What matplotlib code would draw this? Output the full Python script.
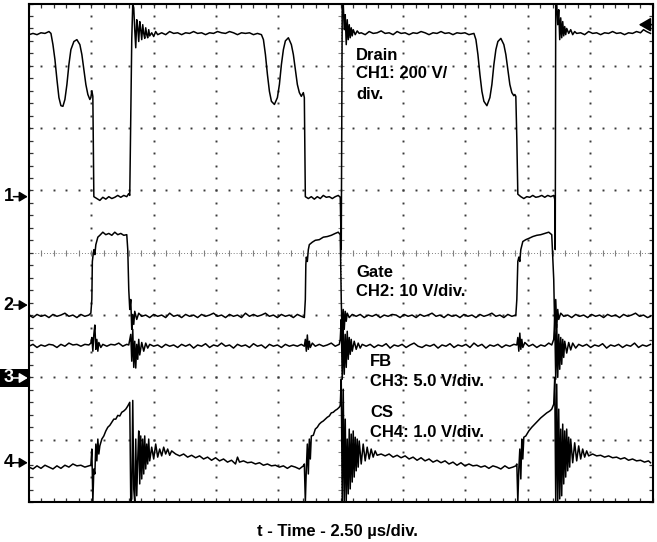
import numpy as np
import matplotlib
matplotlib.use("Agg")
import matplotlib.pyplot as plt
from matplotlib.patches import Rectangle
from matplotlib.transforms import blended_transform_factory

# scope screen: 10 x 8 divisions, 2.50 us/div -> time 0..25 us, levels in divisions
T_DIV = 2.5
N_XDIV = 10
N_YDIV = 8

# CH1 drain (time in us, level in div)
drain = np.array([
    (0.00, 7.50), (0.16, 7.52), (0.32, 7.50), (0.48, 7.53), (0.64, 7.52), (0.80, 7.55), (0.88, 7.52),
    (0.96, 7.34), (1.04, 7.10), (1.12, 6.78), (1.20, 6.49), (1.28, 6.36), (1.36, 6.35), (1.44, 6.46),
    (1.52, 6.70), (1.60, 7.02), (1.68, 7.26), (1.80, 7.39), (1.92, 7.42), (2.04, 7.34), (2.12, 7.18),
    (2.20, 6.94), (2.28, 6.70), (2.36, 6.54), (2.44, 6.46), (2.48, 6.49), (2.52, 6.60), (2.56, 6.51),
    (2.58, 5.66), (2.60, 4.90),
    (2.72, 4.87), (2.84, 4.84), (2.96, 4.89), (3.08, 4.86), (3.20, 4.90), (3.32, 4.87), (3.44, 4.89),
    (3.56, 4.92), (3.68, 4.89), (3.80, 4.92), (3.92, 4.90), (4.00, 4.95), (4.04, 4.92),
    (4.08, 6.14), (4.12, 7.42), (4.16, 8.00), (4.20, 7.93), (4.24, 7.58), (4.28, 7.29), (4.32, 7.74),
    (4.36, 7.61), (4.40, 7.39), (4.44, 7.71), (4.48, 7.58), (4.52, 7.42), (4.56, 7.66), (4.60, 7.52),
    (4.64, 7.44), (4.68, 7.61), (4.72, 7.50), (4.76, 7.45), (4.80, 7.58), (4.84, 7.48), (4.92, 7.53),
    (5.00, 7.47), (5.08, 7.55), (5.16, 7.50),
    (5.32, 7.53), (5.48, 7.50), (5.64, 7.55), (5.80, 7.52), (5.96, 7.53), (6.12, 7.50), (6.28, 7.53),
    (6.44, 7.52), (6.60, 7.55), (6.76, 7.52), (6.92, 7.53), (7.08, 7.50), (7.24, 7.53), (7.40, 7.52),
    (7.56, 7.55), (7.72, 7.53), (7.88, 7.52), (8.04, 7.55), (8.20, 7.53), (8.36, 7.50), (8.52, 7.53),
    (8.68, 7.52), (8.84, 7.53), (9.00, 7.50), (9.16, 7.52), (9.32, 7.50),
    (9.40, 7.42), (9.48, 7.18), (9.56, 6.86), (9.64, 6.59), (9.72, 6.43), (9.84, 6.38), (9.96, 6.49),
    (10.04, 6.70), (10.12, 7.02), (10.20, 7.26), (10.28, 7.40), (10.40, 7.45), (10.52, 7.34),
    (10.60, 7.18), (10.68, 6.94), (10.76, 6.70), (10.84, 6.57), (10.92, 6.51), (10.96, 6.54),
    (11.00, 6.57), (11.04, 6.49), (11.06, 5.66), (11.08, 4.90),
    (11.20, 4.87), (11.32, 4.90), (11.44, 4.86), (11.56, 4.90), (11.68, 4.87), (11.80, 4.92),
    (11.92, 4.89), (12.04, 4.90), (12.16, 4.87), (12.28, 4.90), (12.40, 4.92), (12.48, 4.89),
    (12.52, 4.05), (12.56, 8.00), (12.60, 8.00), (12.64, 7.58), (12.68, 7.82), (12.72, 7.34),
    (12.76, 7.74), (12.80, 7.42), (12.84, 7.66), (12.88, 7.45), (12.92, 7.61), (12.96, 7.48),
    (13.00, 7.58), (13.08, 7.50), (13.16, 7.56), (13.24, 7.52), (13.32, 7.53),
    (13.48, 7.50), (13.64, 7.55), (13.80, 7.52), (13.96, 7.53), (14.12, 7.56), (14.28, 7.52),
    (14.44, 7.53), (14.60, 7.50), (14.76, 7.55), (14.92, 7.52), (15.08, 7.53), (15.24, 7.50),
    (15.40, 7.53), (15.56, 7.52), (15.72, 7.55), (15.88, 7.53), (16.04, 7.50), (16.20, 7.53),
    (16.36, 7.52), (16.52, 7.55), (16.68, 7.52), (16.84, 7.53), (17.00, 7.50), (17.16, 7.53),
    (17.32, 7.52), (17.48, 7.53), (17.64, 7.50), (17.84, 7.52),
    (17.92, 7.42), (18.00, 7.18), (18.08, 6.86), (18.16, 6.59), (18.24, 6.43), (18.36, 6.36),
    (18.48, 6.49), (18.56, 6.70), (18.64, 7.02), (18.72, 7.26), (18.80, 7.39), (18.92, 7.44),
    (19.04, 7.34), (19.12, 7.18), (19.20, 6.94), (19.28, 6.70), (19.36, 6.57), (19.44, 6.52),
    (19.48, 6.54), (19.52, 6.51), (19.56, 5.82), (19.60, 4.94),
    (19.72, 4.90), (19.84, 4.87), (19.96, 4.90), (20.08, 4.89), (20.20, 4.92), (20.32, 4.89),
    (20.44, 4.90), (20.56, 4.92), (20.68, 4.89), (20.80, 4.92), (20.92, 4.90), (21.04, 4.92),
    (21.08, 4.86), (21.10, 4.05), (21.12, 8.00), (21.16, 8.00), (21.20, 7.66), (21.24, 7.90),
    (21.28, 7.42), (21.32, 7.77), (21.36, 7.45), (21.40, 7.71), (21.44, 7.48), (21.48, 7.63),
    (21.52, 7.50), (21.56, 7.60), (21.64, 7.52), (21.72, 7.58), (21.80, 7.50), (21.88, 7.55),
    (21.96, 7.52),
    (22.12, 7.53), (22.28, 7.50), (22.44, 7.55), (22.60, 7.52), (22.76, 7.53), (22.92, 7.50),
    (23.08, 7.53), (23.24, 7.52), (23.40, 7.55), (23.56, 7.52), (23.72, 7.53), (23.88, 7.50),
    (24.04, 7.53), (24.20, 7.52), (24.36, 7.55), (24.52, 7.53), (24.64, 7.58), (24.76, 7.55),
    (24.92, 7.52),
])

# CH2 gate
gate = np.array([
    (0.00, 3.00), (0.16, 2.96), (0.32, 3.01), (0.48, 2.98), (0.64, 3.00), (0.80, 2.96), (0.96, 3.01),
    (1.12, 2.98), (1.28, 3.00), (1.44, 3.03), (1.60, 2.98), (1.76, 3.00), (1.92, 2.96), (2.08, 3.01),
    (2.24, 2.98), (2.40, 3.00), (2.48, 3.03),
    (2.52, 3.25), (2.54, 3.86), (2.56, 3.93), (2.60, 4.05), (2.64, 3.97), (2.68, 4.13), (2.76, 4.25),
    (2.84, 4.28), (2.96, 4.33), (3.08, 4.29), (3.20, 4.31), (3.32, 4.28), (3.44, 4.33), (3.56, 4.29),
    (3.68, 4.31), (3.80, 4.28), (3.92, 4.29),
    (3.96, 4.05), (4.00, 3.41), (4.04, 3.09), (4.08, 3.25), (4.12, 2.77), (4.16, 3.01), (4.20, 2.85),
    (4.24, 3.06), (4.32, 2.93), (4.40, 3.03), (4.52, 2.98),
    (4.68, 3.00), (4.84, 2.96), (5.00, 3.01), (5.16, 2.98), (5.32, 3.00), (5.48, 2.96), (5.64, 3.03),
    (5.80, 2.98), (5.96, 3.00), (6.12, 2.96), (6.28, 3.01), (6.44, 2.98), (6.60, 3.00), (6.76, 2.96),
    (6.92, 3.01), (7.08, 2.98), (7.24, 3.00), (7.40, 3.03), (7.56, 2.98), (7.72, 3.00), (7.88, 2.96),
    (8.04, 3.01), (8.20, 2.98), (8.36, 3.00), (8.52, 2.96), (8.68, 3.03), (8.84, 2.98), (9.00, 3.01),
    (9.16, 2.98), (9.32, 3.00), (9.48, 3.03), (9.64, 2.98), (9.80, 3.00), (9.96, 2.96), (10.12, 3.01),
    (10.28, 2.98), (10.44, 3.00), (10.60, 2.96), (10.76, 3.01), (10.92, 2.98), (11.04, 2.96),
    (11.08, 3.25), (11.10, 3.81), (11.12, 3.93), (11.16, 3.86), (11.20, 4.05), (11.24, 4.13),
    (11.36, 4.17), (11.48, 4.20), (11.64, 4.21), (11.80, 4.25), (11.96, 4.26), (12.12, 4.28),
    (12.28, 4.31), (12.40, 4.33), (12.48, 4.29),
    (12.52, 3.25), (12.56, 2.61), (12.60, 3.09), (12.64, 2.77), (12.68, 3.06), (12.72, 2.90),
    (12.76, 3.03), (12.84, 2.96), (12.96, 3.01),
    (13.12, 2.98), (13.28, 3.01), (13.44, 2.96), (13.60, 3.00), (13.76, 2.98), (13.92, 3.01),
    (14.08, 2.96), (14.24, 3.00), (14.40, 2.98), (14.56, 3.01), (14.72, 3.00), (14.88, 2.96),
    (15.04, 3.01), (15.20, 2.98), (15.36, 3.00), (15.52, 2.96), (15.68, 3.01), (15.84, 2.98),
    (16.00, 3.00), (16.16, 3.03), (16.32, 2.98), (16.48, 3.00), (16.64, 2.96), (16.80, 3.01),
    (16.96, 2.98), (17.12, 3.00), (17.28, 2.96), (17.44, 3.01), (17.60, 2.98), (17.76, 3.00),
    (17.92, 2.96), (18.08, 3.01), (18.24, 2.98), (18.40, 3.00), (18.56, 3.03), (18.72, 2.98),
    (18.88, 3.00), (19.04, 2.96), (19.20, 3.01), (19.36, 2.98), (19.52, 3.00),
    (19.56, 3.25), (19.60, 3.86), (19.64, 3.93), (19.68, 3.86), (19.72, 4.05), (19.80, 4.18),
    (19.92, 4.21), (20.04, 4.23), (20.20, 4.26), (20.36, 4.28), (20.52, 4.29), (20.68, 4.31),
    (20.84, 4.33), (20.96, 4.29),
    (21.04, 3.57), (21.08, 2.77), (21.12, 3.25), (21.16, 2.80), (21.20, 3.09), (21.24, 2.93),
    (21.32, 3.03), (21.44, 2.98),
    (21.60, 3.00), (21.76, 2.96), (21.92, 3.01), (22.08, 2.98), (22.24, 3.00), (22.40, 2.96),
    (22.56, 3.01), (22.72, 2.98), (22.88, 3.00), (23.04, 2.96), (23.20, 3.01), (23.36, 2.98),
    (23.52, 3.00), (23.68, 2.96), (23.84, 3.01), (24.00, 2.98), (24.16, 3.00), (24.32, 3.03),
    (24.48, 2.98), (24.64, 3.00), (24.80, 2.96), (24.92, 2.98),
])

# CH3 feedback
fb = np.array([
    (0.00, 2.50), (0.16, 2.53), (0.32, 2.48), (0.48, 2.52), (0.64, 2.50), (0.80, 2.53), (0.96, 2.52),
    (1.12, 2.48), (1.28, 2.53), (1.44, 2.50), (1.60, 2.55), (1.76, 2.52), (1.92, 2.53), (2.08, 2.50),
    (2.24, 2.53), (2.40, 2.52), (2.48, 2.55),
    (2.52, 2.64), (2.56, 2.42), (2.60, 2.69), (2.64, 2.84), (2.68, 2.45), (2.72, 2.61), (2.76, 2.42),
    (2.80, 2.56), (2.88, 2.48), (2.96, 2.53),
    (3.12, 2.50), (3.28, 2.53), (3.44, 2.52), (3.60, 2.55), (3.76, 2.50), (3.92, 2.53), (4.00, 2.52),
    (4.04, 2.61), (4.08, 2.69), (4.12, 2.26), (4.16, 2.77), (4.20, 2.16), (4.24, 2.58), (4.28, 2.15),
    (4.32, 2.53), (4.36, 2.29), (4.40, 2.61), (4.44, 2.36), (4.52, 2.56), (4.60, 2.42), (4.68, 2.55),
    (4.76, 2.47), (4.84, 2.53),
    (5.00, 2.50), (5.16, 2.52), (5.32, 2.48), (5.48, 2.53), (5.64, 2.50), (5.80, 2.52), (5.96, 2.48),
    (6.12, 2.53), (6.28, 2.50), (6.44, 2.53), (6.60, 2.47), (6.76, 2.52), (6.92, 2.50), (7.08, 2.54),
    (7.24, 2.48), (7.40, 2.52), (7.56, 2.50), (7.72, 2.55), (7.88, 2.50), (8.04, 2.52), (8.20, 2.47),
    (8.36, 2.53), (8.52, 2.50), (8.68, 2.52), (8.84, 2.48), (9.00, 2.54), (9.16, 2.50), (9.32, 2.52),
    (9.48, 2.47), (9.64, 2.53), (9.80, 2.50), (9.96, 2.52), (10.12, 2.48), (10.28, 2.53),
    (10.44, 2.50), (10.60, 2.52), (10.76, 2.50), (10.92, 2.53), (11.04, 2.50),
    (11.08, 2.61), (11.12, 2.42), (11.16, 2.68), (11.20, 2.45), (11.24, 2.58), (11.28, 2.48),
    (11.36, 2.55),
    (11.48, 2.50), (11.64, 2.53), (11.80, 2.50), (11.96, 2.52), (12.12, 2.55), (12.28, 2.50),
    (12.44, 2.53),
    (12.48, 2.61), (12.52, 2.93), (12.56, 1.97), (12.60, 2.77), (12.64, 2.05), (12.68, 2.69),
    (12.72, 2.16), (12.76, 2.74), (12.80, 2.29), (12.84, 2.64), (12.88, 2.37), (12.92, 2.61),
    (12.96, 2.42), (13.04, 2.58), (13.12, 2.45), (13.20, 2.55), (13.28, 2.47), (13.36, 2.53),
    (13.52, 2.50), (13.68, 2.53), (13.84, 2.48), (14.00, 2.52), (14.16, 2.50), (14.32, 2.54),
    (14.48, 2.47), (14.64, 2.52), (14.80, 2.50), (14.96, 2.53), (15.12, 2.48), (15.28, 2.52),
    (15.44, 2.55), (15.60, 2.50), (15.76, 2.48), (15.92, 2.52), (16.08, 2.50), (16.24, 2.53),
    (16.40, 2.47), (16.56, 2.52), (16.72, 2.50), (16.88, 2.54), (17.04, 2.48), (17.20, 2.52),
    (17.36, 2.50), (17.52, 2.53), (17.68, 2.48), (17.84, 2.55), (18.00, 2.50), (18.16, 2.53),
    (18.32, 2.47), (18.48, 2.52), (18.64, 2.50), (18.80, 2.53), (18.96, 2.48), (19.12, 2.52),
    (19.28, 2.50), (19.44, 2.53), (19.56, 2.52),
    (19.60, 2.64), (19.64, 2.42), (19.68, 2.71), (19.72, 2.45), (19.76, 2.61), (19.80, 2.48),
    (19.88, 2.56),
    (20.04, 2.50), (20.20, 2.53), (20.36, 2.48), (20.52, 2.52), (20.68, 2.50), (20.84, 2.55),
    (20.96, 2.52),
    (21.04, 2.61), (21.08, 2.93), (21.12, 1.97), (21.16, 2.85), (21.20, 2.00), (21.24, 2.69),
    (21.28, 2.13), (21.32, 2.64), (21.36, 2.21), (21.40, 2.61), (21.44, 2.32), (21.48, 2.58),
    (21.56, 2.39), (21.64, 2.56), (21.72, 2.44), (21.80, 2.55), (21.92, 2.47), (22.04, 2.53),
    (22.20, 2.50), (22.36, 2.53), (22.52, 2.48), (22.68, 2.52), (22.84, 2.50), (23.00, 2.54),
    (23.16, 2.47), (23.32, 2.52), (23.48, 2.50), (23.64, 2.53), (23.80, 2.48), (23.96, 2.52),
    (24.12, 2.50), (24.28, 2.55), (24.44, 2.48), (24.60, 2.52), (24.76, 2.50), (24.92, 2.53),
])

# CH4 current sense
cs = np.array([
    (0.00, 0.56), (0.16, 0.53), (0.32, 0.58), (0.48, 0.54), (0.64, 0.59), (0.80, 0.56), (0.96, 0.53),
    (1.12, 0.58), (1.28, 0.54), (1.44, 0.59), (1.60, 0.56), (1.76, 0.61), (1.92, 0.58), (2.08, 0.59),
    (2.24, 0.56), (2.40, 0.58), (2.48, 0.59),
    (2.52, 0.85), (2.56, 0.00), (2.60, 0.53), (2.64, 0.45), (2.68, 0.93), (2.72, 0.66), (2.76, 1.01),
    (2.80, 0.77), (2.84, 0.90), (2.92, 1.01), (3.00, 1.06), (3.08, 1.14), (3.16, 1.20), (3.24, 1.23),
    (3.32, 1.28), (3.40, 1.33), (3.48, 1.33), (3.56, 1.39), (3.64, 1.38), (3.72, 1.44), (3.80, 1.46),
    (3.88, 1.49), (3.96, 1.54), (4.00, 1.57),
    (4.04, 1.60), (4.08, 0.00), (4.12, 0.05), (4.16, 1.63), (4.20, 0.21), (4.24, 0.00), (4.28, 1.01),
    (4.32, 0.10), (4.36, 0.69), (4.40, 1.14), (4.44, 0.29), (4.48, 1.06), (4.52, 0.37), (4.56, 1.01),
    (4.60, 0.45), (4.64, 1.06), (4.68, 0.53), (4.72, 0.93), (4.76, 0.61), (4.80, 1.01), (4.84, 0.66),
    (4.92, 0.88), (5.00, 0.69), (5.08, 0.93), (5.16, 0.72), (5.24, 0.85), (5.32, 0.74), (5.40, 0.88),
    (5.48, 0.77), (5.56, 0.85), (5.64, 0.75), (5.72, 0.82),
    (5.88, 0.77), (6.04, 0.74), (6.20, 0.77), (6.36, 0.72), (6.52, 0.75), (6.68, 0.71), (6.84, 0.74),
    (7.00, 0.69), (7.16, 0.72), (7.32, 0.67), (7.48, 0.71), (7.64, 0.66), (7.80, 0.69), (7.96, 0.64),
    (8.12, 0.67), (8.28, 0.61), (8.36, 0.72), (8.44, 0.64), (8.60, 0.66), (8.76, 0.63), (8.92, 0.64),
    (9.08, 0.61), (9.24, 0.63), (9.40, 0.59), (9.56, 0.61), (9.72, 0.58), (9.88, 0.59), (10.04, 0.56),
    (10.20, 0.58), (10.36, 0.54), (10.52, 0.58), (10.68, 0.56), (10.84, 0.53), (11.00, 0.58),
    (11.04, 0.61), (11.08, 0.00), (11.12, 0.53), (11.16, 0.93), (11.20, 0.45), (11.24, 1.01),
    (11.28, 0.69), (11.32, 1.06), (11.40, 1.07), (11.48, 1.17), (11.56, 1.20), (11.64, 1.25),
    (11.72, 1.28), (11.80, 1.30), (11.88, 1.33), (11.96, 1.36), (12.04, 1.38), (12.12, 1.43),
    (12.20, 1.44), (12.28, 1.47), (12.36, 1.49), (12.44, 1.52), (12.48, 1.55),
    (12.52, 1.97), (12.56, 0.00), (12.60, 1.81), (12.64, 0.00), (12.68, 1.33), (12.72, 0.00),
    (12.76, 1.01), (12.80, 0.13), (12.84, 1.17), (12.88, 0.21), (12.92, 1.09), (12.96, 0.32),
    (13.00, 1.14), (13.04, 0.40), (13.08, 1.04), (13.12, 0.50), (13.16, 1.01), (13.20, 0.56),
    (13.24, 0.98), (13.32, 0.61), (13.40, 0.93), (13.48, 0.66), (13.56, 0.88), (13.64, 0.69),
    (13.72, 0.85), (13.80, 0.72), (13.88, 0.82), (13.96, 0.75),
    (14.12, 0.77), (14.28, 0.74), (14.44, 0.77), (14.60, 0.72), (14.76, 0.75), (14.92, 0.71),
    (15.08, 0.74), (15.24, 0.69), (15.40, 0.72), (15.56, 0.67), (15.72, 0.71), (15.88, 0.66),
    (16.04, 0.69), (16.20, 0.64), (16.36, 0.67), (16.52, 0.63), (16.68, 0.66), (16.84, 0.61),
    (17.00, 0.64), (17.16, 0.59), (17.32, 0.63), (17.48, 0.58), (17.64, 0.61), (17.80, 0.58),
    (17.96, 0.59), (18.12, 0.56), (18.28, 0.58), (18.44, 0.54), (18.60, 0.58), (18.76, 0.56),
    (18.92, 0.53), (19.08, 0.58), (19.24, 0.54), (19.40, 0.56), (19.52, 0.58),
    (19.56, 0.61), (19.60, 0.00), (19.64, 0.53), (19.68, 0.85), (19.72, 0.37), (19.76, 1.01),
    (19.80, 0.69), (19.84, 1.04), (19.92, 1.06), (20.04, 1.14), (20.16, 1.20), (20.28, 1.25),
    (20.40, 1.30), (20.52, 1.35), (20.64, 1.39), (20.76, 1.43), (20.88, 1.46), (20.96, 1.49),
    (21.04, 1.57),
    (21.08, 2.00), (21.12, 0.00), (21.16, 1.89), (21.20, 0.00), (21.24, 1.49), (21.28, 0.05),
    (21.32, 1.17), (21.36, 0.10), (21.40, 1.25), (21.44, 0.29), (21.48, 1.14), (21.52, 0.40),
    (21.56, 1.17), (21.60, 0.50), (21.64, 1.04), (21.68, 0.56), (21.72, 1.01), (21.80, 0.63),
    (21.88, 0.95), (21.96, 0.66), (22.04, 0.90), (22.12, 0.69), (22.20, 0.85), (22.28, 0.72),
    (22.36, 0.82), (22.44, 0.74),
    (22.60, 0.77), (22.76, 0.74), (22.92, 0.75), (23.08, 0.72), (23.24, 0.74), (23.40, 0.71),
    (23.56, 0.72), (23.72, 0.69), (23.88, 0.71), (24.04, 0.67), (24.20, 0.69), (24.36, 0.66),
    (24.52, 0.67), (24.68, 0.64), (24.84, 0.66), (24.92, 0.63),
])

# channel ground markers and trigger level (div)
marker_names = ["1", "2", "3", "4"]
marker_levels = [4.90, 3.16, 1.99, 0.63]
trigger_level = 7.66

label_texts = ["Drain", "CH1: 200 V/", "div.", "Gate", "CH2: 10 V/div.",
               "FB", "CH3: 5.0 V/div.", "CS", "CH4: 1.0 V/div."]
x_label = "t - Time - 2.50 \u00b5s/div."

fonts = ["Liberation Sans", "DejaVu Sans"]

fig = plt.figure(figsize=(6.57, 5.42), dpi=100)
ax = fig.add_axes([29 / 657, 40 / 542, 623.5 / 657, 498.5 / 542])
tmax = N_XDIV * T_DIV
ax.set_xlim(0, tmax)
ax.set_ylim(0, N_YDIV)

minor_t = np.arange(0, tmax + 0.01, T_DIV / 5)
minor_v = np.arange(0, N_YDIV + 0.01, 0.2)
dot = dict(ls="none", marker="s", ms=1.4, mec="none", mfc="#3a3a3a", zorder=1)

# dotted graticule
for k in range(1, N_XDIV):
    if k == N_XDIV // 2:
        continue
    ax.plot(np.full_like(minor_v, k * T_DIV), minor_v, **dot)
for k in range(1, N_YDIV):
    if k == N_YDIV // 2:
        continue
    ax.plot(minor_t, np.full_like(minor_t, k), **dot)

# centre crosshair with ticks
grey = "#808080"
ax.axhline(N_YDIV / 2, ls=(0, (1, 2)), lw=0.7, color=grey, zorder=1)
ax.axvline(tmax / 2, ls=(0, (1, 2)), lw=0.7, color=grey, zorder=1)
ax.plot(minor_t, np.full_like(minor_t, N_YDIV / 2), ls="none", marker="|", ms=5,
        mew=0.8, color=grey, zorder=1)
ax.plot(np.full_like(minor_v, tmax / 2), minor_v, ls="none", marker="_", ms=5,
        mew=0.8, color=grey, zorder=1)

ax.set_xticks(minor_t)
ax.set_yticks(minor_v)
ax.tick_params(direction="in", length=3, width=0.9, color="#333333", top=True, right=True,
               labelbottom=False, labelleft=False)
for s in ax.spines.values():
    s.set_linewidth(1.5)

# traces
for trace in (drain, gate, fb, cs):
    ax.plot(trace[:, 0], trace[:, 1], color="black", lw=1.1, zorder=3)

# labels in the screen
tf = dict(fontsize=12, fontweight="bold", family=fonts, va="baseline", ha="left", zorder=4)
ax.text(13.12, 7.10, label_texts[0], **tf)
ax.text(13.12, 6.80, label_texts[1], **tf)
ax.text(13.12, 6.47, label_texts[2], **tf)
ax.text(13.12, 3.61, label_texts[3], **tf)
ax.text(13.12, 3.30, label_texts[4], **tf)
ax.text(13.68, 2.18, label_texts[5], **tf)
ax.text(13.68, 1.86, label_texts[6], **tf)
ax.text(13.68, 1.36, label_texts[7], **tf)
ax.text(13.68, 1.04, label_texts[8], **tf)

# ground markers on the left: digit + arrow
trans = blended_transform_factory(ax.transAxes, ax.transData)
for name, lev in zip(marker_names, marker_levels):
    fg = "black"
    if name == "3":
        fg = "white"
        ax.add_patch(Rectangle((-0.047, lev - 0.15), 0.0455, 0.30, transform=trans,
                               facecolor="black", edgecolor="none", clip_on=False, zorder=5))
    ax.text(-0.033, lev, name, transform=trans, ha="center", va="center", fontsize=13,
            fontweight="bold", family=fonts, color=fg, clip_on=False, zorder=6)
    ax.annotate("", xy=(-0.002, lev), xytext=(-0.025, lev), xycoords=trans, textcoords=trans,
                arrowprops=dict(arrowstyle="-|>,head_length=0.5,head_width=0.3", color=fg,
                                lw=1.1, mutation_scale=10, shrinkA=0, shrinkB=0),
                annotation_clip=False, zorder=6)

# trigger level arrow
ax.annotate("", xy=(tmax - 0.55, trigger_level), xytext=(tmax, trigger_level),
            arrowprops=dict(arrowstyle="-|>,head_length=0.6,head_width=0.35", color="black",
                            lw=1.2, mutation_scale=12, shrinkA=0, shrinkB=0), zorder=5)

fig.text(337.5 / 657, 6 / 542, x_label, ha="center", va="baseline", fontsize=12,
         fontweight="bold", family=fonts)

fig.savefig("out.png", dpi=100)
